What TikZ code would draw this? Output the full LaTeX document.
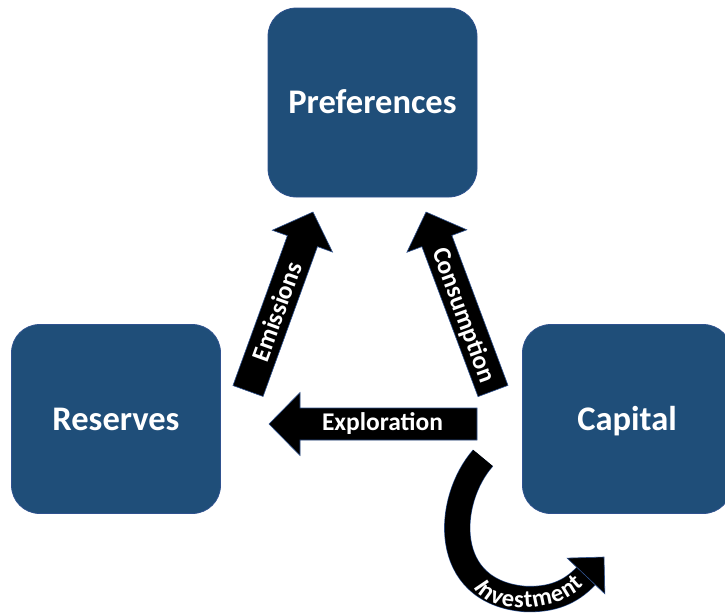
\documentclass[tikz,border=0pt]{standalone}
\usepackage{fontspec}
\setmainfont{Carlito}
\usetikzlibrary{calc,decorations.text}

\definecolor{boxblue}{HTML}{1F4E79}
\definecolor{edgeblue}{HTML}{2F528F}

\tikzset{
  stockbox/.style={fill=boxblue, draw=edgeblue, line width=0.75pt,
    rounded corners=28pt, minimum width=209pt, minimum height=189pt,
    inner sep=0pt, text=white, text height=22pt, text depth=0pt,
    font=\fontsize{34.5}{34.5}\selectfont\bfseries},
  arrowbody/.style={fill=black, draw=edgeblue, line width=0.6pt, line join=miter},
  arrowlabel/.style={inner sep=0pt, text=white, text height=16pt, text depth=0pt,
    font=\fontsize{25.5}{25.5}\selectfont\bfseries},
}

% font used for the curved label
\newcommand\invfont{\fontsize{24.5}{24.5}\selectfont\bfseries}

% straight block arrow: tail, tip, half shaft width, half head width, head length
\newcommand\blockarrow[5]{%
  \coordinate (#1-hb) at ($(#2)!#5!(#1)$);
  \filldraw[arrowbody]
    ($(#1)!#3!90:(#2)$) -- ($(#1-hb)!#3!90:(#2)$) -- ($(#1-hb)!#4!90:(#2)$)
    -- (#2) -- ($(#1-hb)!#4!-90:(#2)$) -- ($(#1-hb)!#3!-90:(#2)$)
    -- ($(#1)!#3!-90:(#2)$) -- cycle;}

\begin{document}
\begin{tikzpicture}[x=1pt,y=-1pt]
\useasboundingbox (0,0) rectangle (725,613);
\clip (0,0) rectangle (725,613);

% the three stocks
\node[stockbox] (pref) at (372.5,102.5) {Preferences};
\node[stockbox] (res)  at (116,419)     {Reserves};
\node[stockbox] (cap)  at (627,419)     {Capital};

% end points of the flows
\coordinate (emisTail) at (248,391);
\coordinate (emisTip)  at (313,212);
\coordinate (consTail) at (493,391);
\coordinate (consTip)  at (426,212);
\coordinate (explTail) at (477,424);
\coordinate (explTip)  at (269,424);

\blockarrow{emisTail}{emisTip}{16pt}{32pt}{31pt}
\blockarrow{consTail}{consTip}{16pt}{32pt}{31pt}
\blockarrow{explTail}{explTip}{16pt}{31.5pt}{31pt}

\node[arrowlabel, rotate=70]  (emisLabel) at (277.5,311.7) {Emissions};
\node[arrowlabel, rotate=-70] (consLabel) at (464,315)     {Consumption};
\node[arrowlabel]             (explLabel) at (382.5,422.5) {Exploration};

% curved investment flow
\coordinate (invStart) at (483,458);
\coordinate (invBase)  at (586,576);
\coordinate (invTip)   at (604,557);
\draw[edgeblue, line width=26.2pt]
  (invStart) .. controls (446,500) and (440,592) .. (525,599)
  .. controls (551,600) and (570,593) .. (invBase);
\draw[black, line width=25pt]
  (invStart) .. controls (446,500) and (440,592) .. (525,599)
  .. controls (551,600) and (570,593) .. (invBase);
\filldraw[arrowbody]
  ($(invBase)!26pt!90:(invTip)$) -- (invTip) -- ($(invBase)!26pt!-90:(invTip)$) -- cycle;
\path[decorate, decoration={text along path, text={|\invfont|Investment},
    text color=white, text align={fit to path}}]
  (474,587) .. controls (488,615) and (555,615) .. (584,585);
\end{tikzpicture}
\end{document}
